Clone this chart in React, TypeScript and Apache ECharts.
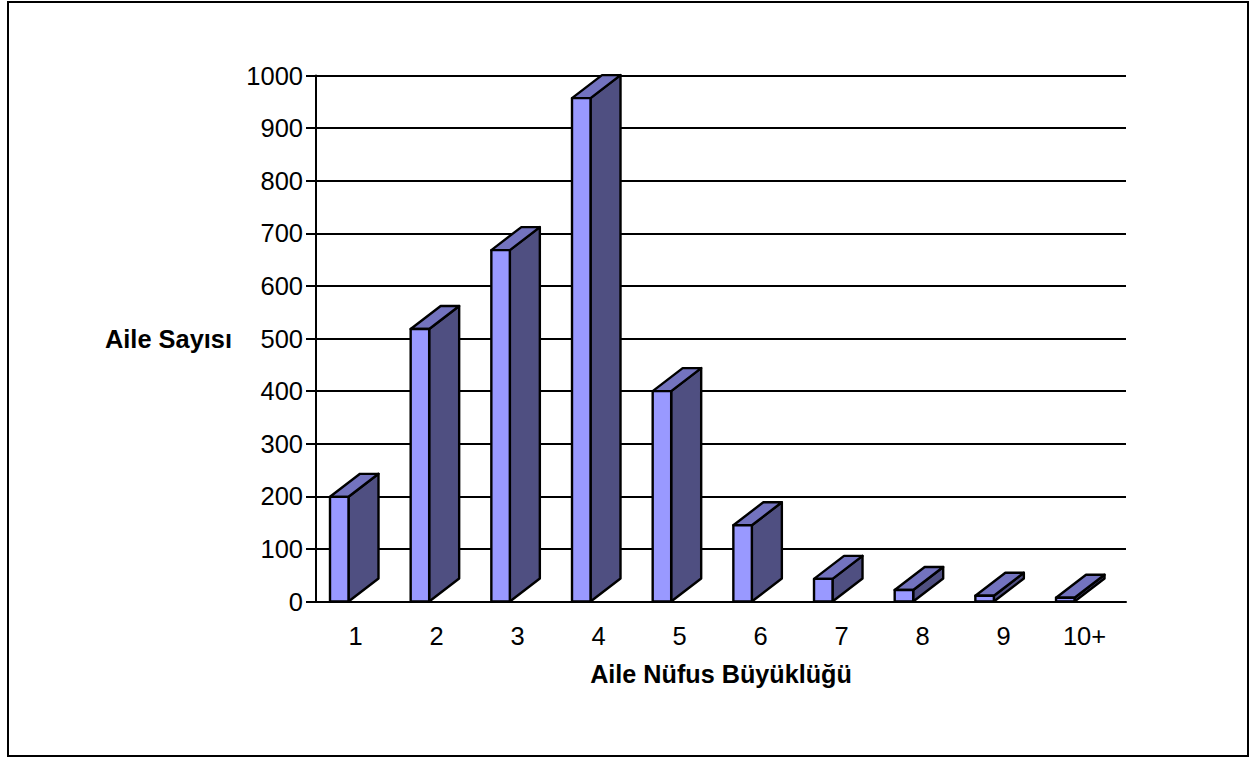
import React, { useEffect, useRef } from "react";
import * as echarts from "echarts";

const categories = ["1", "2", "3", "4", "5", "6", "7", "8", "9", "10+"];
const familyCounts = [199, 518, 668, 957, 400, 145, 43, 22, 11, 7];
const xAxisTitle = "Aile Nüfus Büyüklüğü";
const yAxisTitle = "Aile Sayısı";

const FONT = '"Liberation Sans", Arial, sans-serif';

function renderBar3D(params: any, api: any) {
  const idx = api.value(0);
  const top = api.coord([idx, api.value(1)]);
  const base = api.coord([idx, 0]);
  const band = api.size([1, 0])[0];
  const left = base[0] - band / 2 + 14 - idx * 0.33;
  const w = 18.5;
  const dx = 30;
  const dy = -23;
  const stroke = { stroke: "#000", lineWidth: 2.4, lineJoin: "round" };
  const r = left + w;
  return {
    type: "group",
    children: [
      {
        type: "polygon",
        shape: { points: [[r, top[1]], [r + dx, top[1] + dy], [r + dx, base[1] + dy], [r, base[1]]] },
        style: { fill: "#4f4f81", ...stroke },
      },
      {
        type: "polygon",
        shape: { points: [[left, top[1]], [left + dx, top[1] + dy], [r + dx, top[1] + dy], [r, top[1]]] },
        style: { fill: "#7373bf", ...stroke },
      },
      {
        type: "rect",
        shape: { x: left, y: top[1], width: w, height: base[1] - top[1] },
        style: { fill: "#9999ff", ...stroke },
      },
    ],
  };
}

export default function App() {
  const ref = useRef<HTMLDivElement>(null);
  useEffect(() => {
    const chart = echarts.init(ref.current!, null, { renderer: "svg" });
    chart.setOption({
      animation: false,
      backgroundColor: "#fff",
      graphic: [
        {
          type: "rect",
          shape: { x: 8, y: 2, width: 1240, height: 754 },
          style: { fill: "none", stroke: "#000", lineWidth: 2 },
          silent: true,
        },
      ],
      grid: { left: 316, top: 75.5, width: 810, height: 526, containLabel: false },
      xAxis: {
        type: "category",
        data: categories,
        name: xAxisTitle,
        nameLocation: "middle",
        nameGap: 60,
        nameTextStyle: { fontFamily: FONT, fontSize: 25.2, fontWeight: "bold", color: "#000" },
        axisLine: { show: true, lineStyle: { color: "#000", width: 2 } },
        axisTick: { show: false },
        axisLabel: { fontFamily: FONT, fontSize: 25.5, color: "#000", margin: 21, interval: 0, padding: [0, 2, 0, 0] },
      },
      yAxis: {
        type: "value",
        min: 0,
        max: 1000,
        interval: 100,
        name: yAxisTitle,
        nameLocation: "middle",
        nameRotate: 0,
        nameGap: 84,
        nameTextStyle: { fontFamily: FONT, fontSize: 25.4, fontWeight: "bold", color: "#000", align: "right", verticalAlign: "middle", padding: [0, 0, 2, 0] },
        axisLine: { show: true, lineStyle: { color: "#000", width: 2 } },
        axisTick: { show: true, length: 10, lineStyle: { color: "#000", width: 2 } },
        axisLabel: { fontFamily: FONT, fontSize: 25.5, color: "#000", margin: 13, formatter: (v: number) => String(v) },
        splitLine: { show: true, lineStyle: { color: "#000", width: 2 } },
      },
      series: [
        {
          type: "custom",
          clip: false,
          renderItem: renderBar3D,
          encode: { x: 0, y: 1 },
          data: familyCounts.map((v, i) => [i, v]),
        },
      ],
    });
    return () => chart.dispose();
  }, []);
  return <div ref={ref} style={{ position: "absolute", left: 0, top: 0, width: 1250, height: 758 }} />;
}
